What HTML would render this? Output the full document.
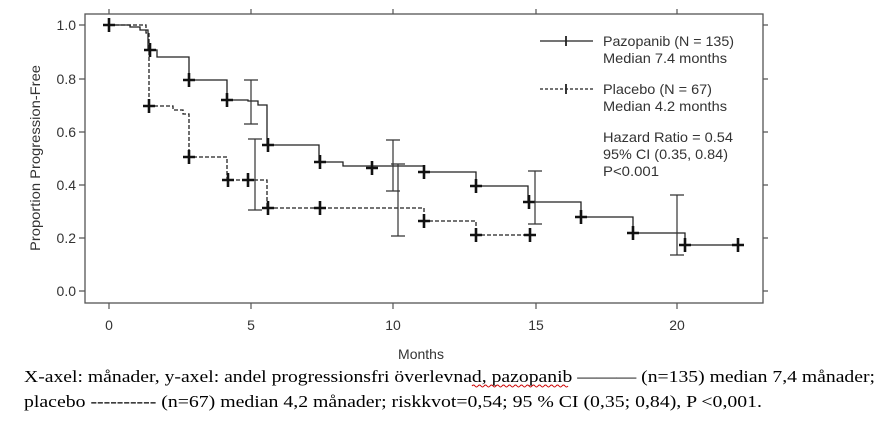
<!DOCTYPE html>
<html><head><meta charset="utf-8"><style>
html,body{margin:0;padding:0;background:#fff;width:885px;height:427px;overflow:hidden}
svg{display:block}
.ax{font-family:"Liberation Sans",sans-serif;font-size:14px;fill:#333}
.cap{font-family:"Liberation Serif",serif;font-size:17px;fill:#000}
</style></head><body>
<svg width="885" height="427" viewBox="0 0 885 427">
<defs>
<g id="p"><path d="M-6 0H6M0 -7V7" stroke="#111" stroke-width="2.6"/></g>
</defs>
<rect x="85" y="14" width="678" height="289" fill="none" stroke="#555" stroke-width="1.3"/>
<g stroke="#555" stroke-width="1.2">
<path d="M109 303v6M251 303v6M393 303v6M536 303v6M677 303v6"/>
<path d="M109 14v-5M251 14v-5M393 14v-5M536 14v-5M677 14v-5"/>
<path d="M85 25h-6M85 79h-6M85 132h-6M85 185h-6M85 238h-6M85 291h-6"/>
<path d="M763 25h5M763 79h5M763 132h5M763 185h5M763 238h5M763 291h5"/>
</g>
<g class="ax" text-anchor="end">
<text x="76" y="30">1.0</text><text x="76" y="84">0.8</text><text x="76" y="137">0.6</text>
<text x="76" y="190">0.4</text><text x="76" y="243">0.2</text><text x="76" y="296">0.0</text>
</g>
<g class="ax" text-anchor="middle">
<text x="109" y="330">0</text><text x="251" y="330">5</text><text x="393" y="330">10</text>
<text x="536" y="330">15</text><text x="677" y="330">20</text>
<text x="421" y="359">Months</text>
<text transform="translate(40,158) rotate(-90)" textLength="186" lengthAdjust="spacingAndGlyphs">Proportion Progression-Free</text>
</g>
<path fill="none" stroke="#222" stroke-width="1.3" d="M109 25H130V27H140V30H148V50H157V57H189V80H227V100H248V101H258V105H267V145H319V162H343V166H424V172H476V186H528V202H581V217H633V233H685V245H738"/>
<path fill="none" stroke="#222" stroke-width="1.3" stroke-dasharray="4,2" d="M109 25H146V33H149V106H173V110H183V114H189V157H227V180H267V208H424V221H476V235H530"/>
<g>
<use href="#p" x="109" y="25"/><use href="#p" x="150" y="50"/><use href="#p" x="189" y="80"/><use href="#p" x="227" y="100"/>
<use href="#p" x="268" y="145"/><use href="#p" x="320" y="162"/><use href="#p" x="372" y="168"/><use href="#p" x="424" y="172"/>
<use href="#p" x="476" y="186"/><use href="#p" x="529" y="202"/><use href="#p" x="581" y="217"/><use href="#p" x="633" y="233"/>
<use href="#p" x="685" y="245"/><use href="#p" x="738" y="245"/>
<use href="#p" x="149" y="106"/><use href="#p" x="189" y="157"/><use href="#p" x="228" y="180"/><use href="#p" x="248" y="180"/>
<use href="#p" x="268" y="208"/><use href="#p" x="320" y="208"/><use href="#p" x="424" y="221"/><use href="#p" x="476" y="235"/><use href="#p" x="530" y="235"/>
</g>
<g stroke="#333" stroke-width="1.2" fill="none">
<path d="M251 80V124M244 80h14M244 124h14"/>
<path d="M255 139V210M248 139h14M248 210h14"/>
<path d="M393 140V191M386 140h14M386 191h14"/>
<path d="M398 164V236M391 164h14M391 236h14"/>
<path d="M535 171V224M528 171h14M528 224h14"/>
<path d="M677 195V255M670 195h14M670 255h14"/>
</g>
<path d="M540 41H593" stroke="#222" stroke-width="1.2"/>
<path d="M540 89H593" stroke="#222" stroke-width="1.2" stroke-dasharray="3,2"/>
<path d="M566 36V46M566 84V94" stroke="#222" stroke-width="1.8"/>
<g class="ax" fill="#222">
<text x="603" y="46" textLength="131" lengthAdjust="spacingAndGlyphs">Pazopanib (N = 135)</text>
<text x="603" y="63" textLength="124" lengthAdjust="spacingAndGlyphs">Median 7.4 months</text>
<text x="603" y="94" textLength="109" lengthAdjust="spacingAndGlyphs">Placebo (N = 67)</text>
<text x="603" y="111" textLength="124" lengthAdjust="spacingAndGlyphs">Median 4.2 months</text>
<text x="603" y="142" textLength="130" lengthAdjust="spacingAndGlyphs">Hazard Ratio = 0.54</text>
<text x="603" y="159" textLength="125" lengthAdjust="spacingAndGlyphs">95% CI (0.35, 0.84)</text>
<text x="603" y="176" textLength="56" lengthAdjust="spacingAndGlyphs">P&lt;0.001</text>
</g>
<text class="cap" x="24" y="382" textLength="851" lengthAdjust="spacingAndGlyphs">X-axel: månader, y-axel: andel progressionsfri överlevnad, pazopanib ——— (n=135) median 7,4 månader;</text>
<path d="M472 386 q1.5 -2 3 0 t3 0 t3 0 t3 0 t3 0 t3 0 t3 0 t3 0 t3 0 t3 0 t3 0 t3 0 t3 0 t3 0 t3 0 t3 0 t3 0 t3 0 t3 0 t3 0 t3 0 t3 0 t3 0 t3 0 t3 0 t3 0 t3 0 t3 0 t3 0 t3 0 t3 0 t3 0" stroke="#c00" fill="none" stroke-width="1"/>
<text class="cap" x="24" y="407" textLength="738" lengthAdjust="spacingAndGlyphs">placebo ---------- (n=67) median 4,2 månader; riskkvot=0,54; 95 % CI (0,35; 0,84), P &lt;0,001.</text>
</svg>
</body></html>
